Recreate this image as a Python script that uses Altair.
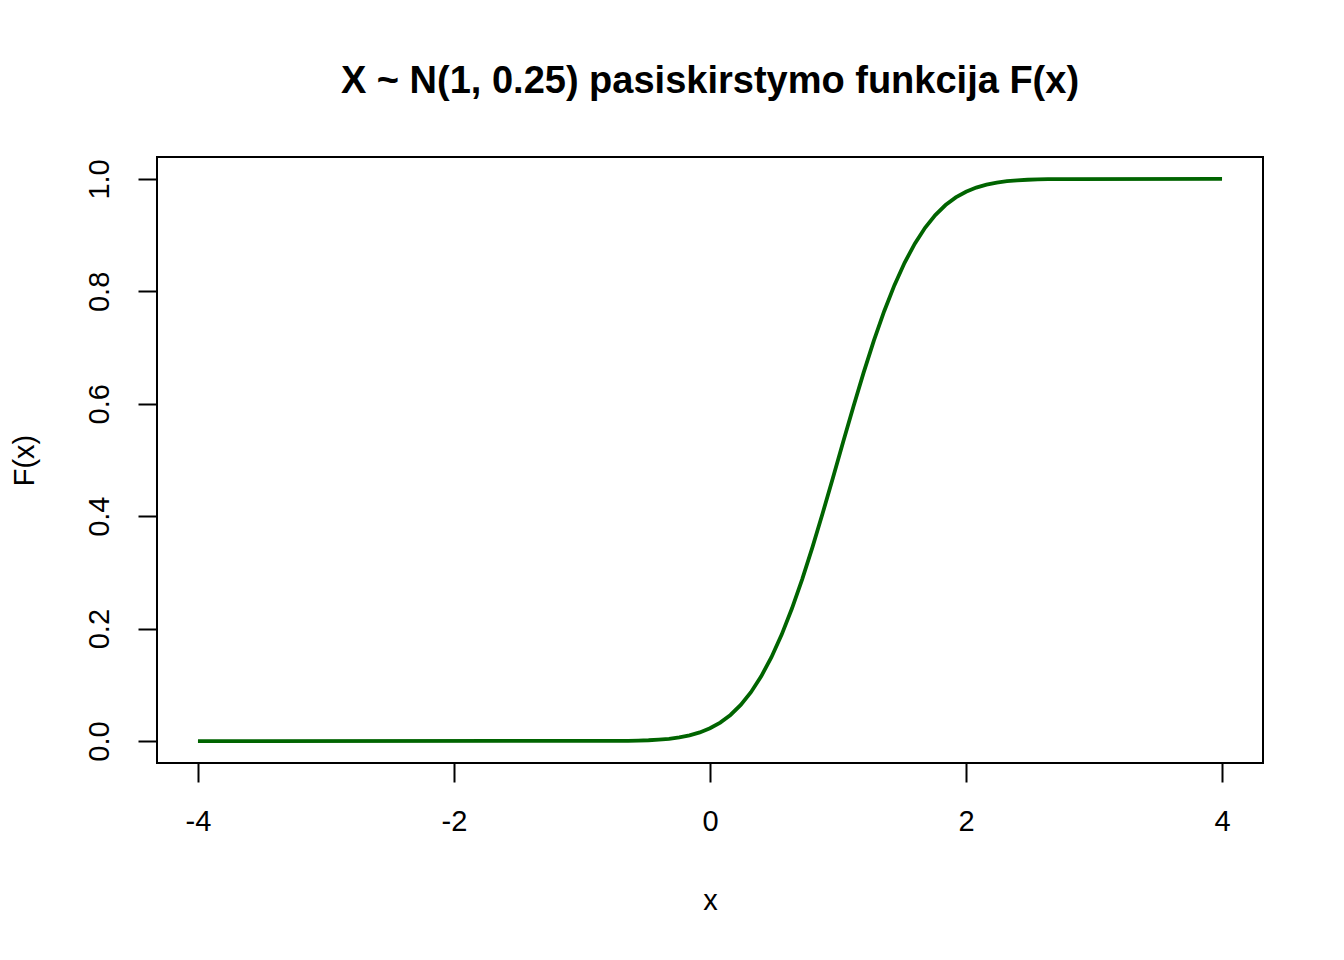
import altair as alt
import pandas as pd

x_vals = [-4.00, -0.64, -0.56, -0.48, -0.40, -0.32, -0.24, -0.16, -0.08, 0.00,
          0.08, 0.16, 0.24, 0.32, 0.40, 0.48, 0.56, 0.64, 0.72, 0.80,
          0.88, 0.96, 1.04, 1.12, 1.20, 1.28, 1.36, 1.44, 1.52, 1.60,
          1.68, 1.76, 1.84, 1.92, 2.00, 2.08, 2.16, 2.24, 2.32, 2.40,
          2.48, 2.56, 2.64, 2.72, 2.80, 4.00]
f_vals = [0.0, 0.0005, 0.0009, 0.0015, 0.0026, 0.0041, 0.0066, 0.0102, 0.0154, 0.0228,
          0.0329, 0.0465, 0.0643, 0.0869, 0.1151, 0.1492, 0.1894, 0.2358, 0.2877, 0.3446,
          0.4052, 0.4681, 0.5319, 0.5948, 0.6554, 0.7123, 0.7642, 0.8106, 0.8508, 0.8849,
          0.9131, 0.9357, 0.9535, 0.9671, 0.9772, 0.9846, 0.9898, 0.9934, 0.9959, 0.9974,
          0.9985, 0.9991, 0.9995, 0.9997, 0.9998, 1.0]
x_ticks = [-4, -2, 0, 2, 4]
y_ticks = [0.0, 0.2, 0.4, 0.6, 0.8, 1.0]

df = pd.DataFrame({"x": x_vals, "F": f_vals})

FONT = "Liberation Sans"

chart = alt.Chart(df).mark_line(color="#006400", strokeWidth=3.8).encode(
    x=alt.X("x:Q",
            scale=alt.Scale(domain=[-4.32, 4.32], nice=False, zero=False),
            axis=alt.Axis(values=x_ticks, title="x", labelExpr="'' + datum.value",
                          labelFontSize=29, titleFontSize=29, titleFontWeight="normal",
                          labelPadding=25, titlePadding=50)),
    y=alt.Y("F:Q",
            scale=alt.Scale(domain=[-0.039, 1.039], nice=False, zero=False),
            axis=alt.Axis(values=y_ticks, title="F(x)", format=".1f", labelFontSize=29,
                          labelAngle=270, labelAlign="center", labelBaseline="bottom",
                          titleFontSize=29, titleFontWeight="normal",
                          labelPadding=24, titlePadding=46)),
).properties(
    width=1106,
    height=606,
    title=alt.TitleParams("X ~ N(1, 0.25) pasiskirstymo funkcija F(x)",
                          fontSize=38, fontWeight="bold", font=FONT, color="black",
                          anchor="middle", baseline="alphabetic", offset=26),
    autosize=alt.AutoSizeParams(type="none"),
    padding={"left": 149, "top": 149, "right": 73, "bottom": 180},
).configure_view(
    stroke="black", strokeWidth=2
).configure_axis(
    domain=False, grid=False, ticks=True, tickSize=19, tickWidth=2, tickColor="black",
    labelColor="black", titleColor="black", labelFont=FONT, titleFont=FONT
)

chart.save("out.html", embed_options={"renderer": "svg", "actions": False})
